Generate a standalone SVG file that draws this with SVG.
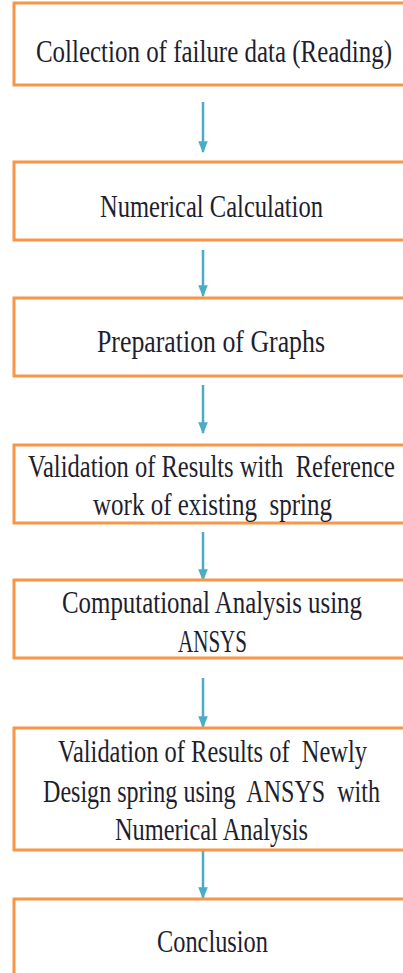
<svg xmlns="http://www.w3.org/2000/svg" width="403" height="973" viewBox="0 0 403 973">
<style>
.box{fill:#fff;stroke:#F79646;stroke-width:3}
.t{font-family:"Liberation Serif","DejaVu Serif",serif;font-size:25px;fill:#1e1e2e}
.c{stroke:#4BACC6;stroke-width:2.5;fill:none;marker-end:url(#ah)}
</style>
<defs>
<marker id="ah" markerUnits="userSpaceOnUse" markerWidth="12" markerHeight="12" viewBox="0 0 10 10" refX="9" refY="5" orient="auto">
<path d="M0,1 L10,5 L0,9 z" fill="#4BACC6"/>
</marker>
</defs>
<rect width="403" height="973" fill="#fff"/>
<g id="connectors">
<line class="c" x1="203" y1="102" x2="203" y2="152"/>
<line class="c" x1="203" y1="250" x2="203" y2="296"/>
<line class="c" x1="203" y1="385" x2="203" y2="433"/>
<line class="c" x1="203" y1="532" x2="203" y2="580"/>
<line class="c" x1="203" y1="678" x2="203" y2="727"/>
<line class="c" x1="203" y1="851" x2="203" y2="898"/>
</g>
<g id="n1"><rect class="box" x="14" y="3" width="400" height="82"/>
<text class="t" transform="matrix(1,0,0,1.25,0,0)" x="36" y="49.6" textLength="356" lengthAdjust="spacingAndGlyphs">Collection of failure data (Reading)</text></g>
<g id="n2"><rect class="box" x="14" y="162" width="400" height="78"/>
<text class="t" transform="matrix(1,0,0,1.25,0,0)" x="100" y="173.6" textLength="223" lengthAdjust="spacingAndGlyphs">Numerical Calculation</text></g>
<g id="n3"><rect class="box" x="14" y="298" width="400" height="78"/>
<text class="t" transform="matrix(1,0,0,1.25,0,0)" x="97" y="281.6" textLength="228" lengthAdjust="spacingAndGlyphs">Preparation of Graphs</text></g>
<g id="n4"><rect class="box" x="14" y="445" width="400" height="78"/>
<text class="t" transform="matrix(1,0,0,1.25,0,0)" x="28" y="381.6" textLength="367" lengthAdjust="spacingAndGlyphs" xml:space="preserve">Validation of Results with  Reference</text>
<text class="t" transform="matrix(1,0,0,1.25,0,0)" x="93" y="412" textLength="239" lengthAdjust="spacingAndGlyphs" xml:space="preserve">work of existing  spring</text></g>
<g id="n5"><rect class="box" x="14" y="580" width="400" height="78"/>
<text class="t" transform="matrix(1,0,0,1.25,0,0)" x="62" y="490.4" textLength="300" lengthAdjust="spacingAndGlyphs">Computational Analysis using</text>
<text class="t" transform="matrix(1,0,0,1.25,0,0)" x="178" y="521.6" textLength="69" lengthAdjust="spacingAndGlyphs">ANSYS</text></g>
<g id="n6"><rect class="box" x="14" y="728" width="400" height="122"/>
<text class="t" transform="matrix(1,0,0,1.25,0,0)" x="58" y="609.6" textLength="309" lengthAdjust="spacingAndGlyphs" xml:space="preserve">Validation of Results of  Newly</text>
<text class="t" transform="matrix(1,0,0,1.25,0,0)" x="43" y="641.6" textLength="337" lengthAdjust="spacingAndGlyphs" xml:space="preserve">Design spring using  ANSYS  with</text>
<text class="t" transform="matrix(1,0,0,1.25,0,0)" x="115" y="672" textLength="193" lengthAdjust="spacingAndGlyphs">Numerical Analysis</text></g>
<g id="n7"><rect class="box" x="14" y="899" width="400" height="90"/>
<text class="t" transform="matrix(1,0,0,1.25,0,0)" x="157" y="761.6" textLength="111" lengthAdjust="spacingAndGlyphs">Conclusion</text></g>
</svg>
